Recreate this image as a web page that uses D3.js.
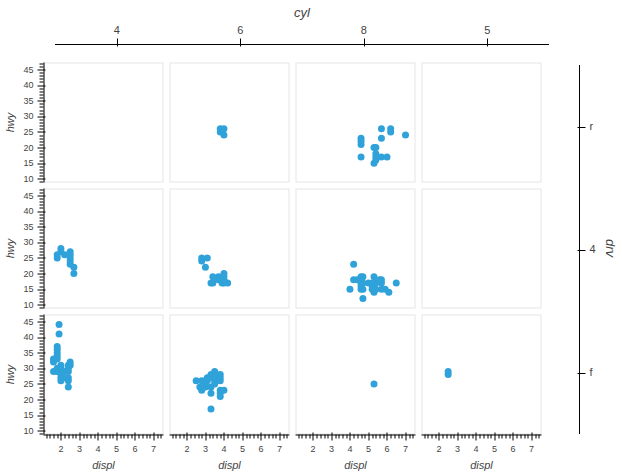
<!DOCTYPE html>
<html>
<head>
<meta charset="utf-8">
<script src="https://cdn.jsdelivr.net/npm/d3@7"></script>
<style>
  html, body { margin: 0; padding: 0; background: #fff; }
  svg { display: block; font-family: "Liberation Sans", Arial, Helvetica, sans-serif; }
</style>
</head>
<body>
<svg id="chart" width="622" height="473"></svg>
<script>
// ---------- data ----------
const drvLevels = ["r", "4", "f"];
const cylLevels = ["4", "6", "8", "5"];
const xTicks = [2, 3, 4, 5, 6, 7];
const yTicks = [10, 15, 20, 25, 30, 35, 40, 45];
const xDomain = [1.06, 7.54];
const yDomain = [8.8, 47.2];

// [displ, hwy] per facet
const r_4 = [];
const r_6 = [[3.8,26],[3.8,25],[4.0,26],[4.0,24]];
const r_8 = [[5.3,20],[5.3,15],[5.7,17],[6.0,17],[5.7,26],[5.7,23],[6.2,26],[6.2,25],[7.0,24],
             [4.6,17],[5.4,18],[4.6,21],[4.6,22],[4.6,23],[5.4,20],[5.4,17],[5.4,16]];
const r_5 = [];

const d4_4 = [[1.8,26],[1.8,25],[2.0,28],[2.0,27],[2.5,25],[2.5,24],[2.5,27],[2.5,26],[2.5,23],
              [2.2,26],[2.7,20],[2.7,22]];
const d4_6 = [[2.8,25],[3.1,25],[2.8,24],[3.7,19],[3.7,18],[3.9,17],[4.0,17],[4.0,19],[4.2,17],
              [3.0,22],[4.0,20],[3.3,17],[3.4,19],[3.4,17],[4.0,18]];
const d4_8 = [[4.2,23],[5.3,19],[5.3,14],[5.7,15],[6.5,17],[4.7,19],[4.7,12],[5.2,17],[5.2,15],
              [4.7,17],[5.2,16],[5.9,15],[5.7,17],[4.6,19],[5.0,17],[4.6,16],[4.6,17],[5.4,15],
              [5.4,17],[5.7,18],[6.1,14],[4.0,15],[4.2,18],[4.4,18],[4.6,15],[5.6,18],[4.7,15]];
const d4_5 = [];

const f_4 = [[1.8,29],[2.0,31],[2.0,30],[2.4,27],[2.4,30],[2.4,24],[1.6,33],[1.6,32],[1.6,29],
             [1.8,34],[1.8,36],[2.0,29],[2.4,26],[2.4,31],[2.0,26],[2.0,28],[2.0,27],[2.4,29],
             [2.5,31],[2.5,32],[2.2,29],[2.2,27],[1.8,30],[1.8,33],[1.8,35],[1.8,37],[1.9,44],
             [1.9,41]];
const f_6 = [[2.8,26],[3.1,27],[3.1,26],[3.5,29],[3.6,26],[3.0,24],[3.3,22],[3.3,24],[3.3,17],
             [3.8,22],[3.8,21],[3.8,23],[4.0,23],[2.5,26],[3.3,28],[2.7,24],[3.5,27],[3.5,26],
             [3.0,25],[3.0,26],[3.5,25],[3.8,26],[3.8,27],[3.8,28],[3.5,28],[3.3,27],[2.8,24],
             [2.8,23]];
const f_8 = [[5.3,25]];
const f_5 = [[2.5,29],[2.5,28]];

const facetData = {
  "r|4": r_4, "r|6": r_6, "r|8": r_8, "r|5": r_5,
  "4|4": d4_4, "4|6": d4_6, "4|8": d4_8, "4|5": d4_5,
  "f|4": f_4, "f|6": f_6, "f|8": f_8, "f|5": f_5
};

// ---------- layout ----------
const svg = d3.select("#chart");
const panelW = 120, panelH = 120;
const colX = d3.scaleBand().domain(cylLevels).range([43.5, 43.5 + 126 * 4]).paddingInner(0);
const rowY = d3.scaleBand().domain(drvLevels).range([62.5, 62.5 + 126 * 3]).paddingInner(0);
const x = d3.scaleLinear().domain(xDomain).range([0, panelW]);
const y = d3.scaleLinear().domain(yDomain).range([panelH, 0]);
const dotColor = "#30a2da";
const textColor = "#444";
const tickFont = 9;

const xMinor = d3.range(12, 75, 2).map(v => v / 10).filter(v => v >= xDomain[0] && v <= xDomain[1] && !xTicks.includes(v));
const yMinor = d3.range(9, 48, 1).filter(v => v >= yDomain[0] && v <= yDomain[1] && !yTicks.includes(v));

drvLevels.forEach((drv, ri) => {
  cylLevels.forEach((cyl, ci) => {
    const g = svg.append("g").attr("transform", `translate(${colX(cyl)},${rowY(drv)})`);
    g.append("rect").attr("x", 0.5).attr("y", 0.5).attr("width", panelW - 1).attr("height", panelH - 1)
      .attr("fill", "#fff").attr("stroke", "#e5e5e5").attr("stroke-width", 1);
    g.selectAll("circle").data(facetData[drv + "|" + cyl]).join("circle")
      .attr("cx", d => x(d[0])).attr("cy", d => y(d[1])).attr("r", 3.5)
      .attr("fill", dotColor);

    // bottom axis on last row
    if (ri === drvLevels.length - 1) {
      const ax = g.append("g").attr("transform", `translate(0,${panelH})`);
      ax.append("line").attr("x1", 0).attr("x2", panelW).attr("y1", 0.5).attr("y2", 0.5)
        .attr("stroke", "#000").attr("stroke-width", 1);
      ax.selectAll("line.major").data(xTicks).join("line").attr("class", "major")
        .attr("x1", d => Math.round(x(d)) + 0.5).attr("x2", d => Math.round(x(d)) + 0.5)
        .attr("y1", -2).attr("y2", 6).attr("stroke", "#000");
      ax.selectAll("line.minor").data(xMinor).join("line").attr("class", "minor")
        .attr("x1", d => Math.round(x(d)) + 0.5).attr("x2", d => Math.round(x(d)) + 0.5)
        .attr("y1", 0).attr("y2", 4).attr("stroke", "#000");
      ax.selectAll("text").data(xTicks).join("text")
        .attr("x", d => x(d)).attr("y", 17).attr("text-anchor", "middle")
        .attr("font-size", tickFont).attr("fill", textColor).text(d => d);
      ax.append("text").attr("x", panelW / 2).attr("y", 34).attr("text-anchor", "middle")
        .attr("font-size", 11).attr("font-style", "italic").attr("fill", textColor).text("displ");
    }
    // left axis on first column
    if (ci === 0) {
      const ay = g.append("g");
      ay.append("line").attr("x1", 0.5).attr("x2", 0.5).attr("y1", 0).attr("y2", panelH)
        .attr("stroke", "#000");
      ay.selectAll("line.major").data(yTicks).join("line").attr("class", "major")
        .attr("y1", d => Math.round(y(d)) + 0.5).attr("y2", d => Math.round(y(d)) + 0.5)
        .attr("x1", -6).attr("x2", 2).attr("stroke", "#000");
      ay.selectAll("line.minor").data(yMinor).join("line").attr("class", "minor")
        .attr("y1", d => Math.round(y(d)) + 0.5).attr("y2", d => Math.round(y(d)) + 0.5)
        .attr("x1", -4).attr("x2", 0).attr("stroke", "#000");
      ay.selectAll("text").data(yTicks).join("text")
        .attr("x", -10).attr("y", d => y(d)).attr("dy", "0.35em").attr("text-anchor", "end")
        .attr("font-size", tickFont).attr("fill", textColor).text(d => d);
      ay.append("text").attr("transform", `translate(${-33},${panelH / 2}) rotate(-90)`)
        .attr("text-anchor", "middle").attr("dy", "0.35em")
        .attr("font-size", 11).attr("font-style", "italic").attr("fill", textColor).text("hwy");
    }
  });
});

// ---------- top categorical axis (cyl) ----------
const topX = d3.scaleBand().domain(cylLevels).range([55, 549]);
const topAxisY = 44.5;
const topAxis = svg.append("g");
topAxis.append("line").attr("x1", 55).attr("x2", 549).attr("y1", topAxisY).attr("y2", topAxisY).attr("stroke", "#000");
topAxis.selectAll("line.t").data(cylLevels).join("line").attr("class", "t")
  .attr("x1", d => Math.round(topX(d) + topX.bandwidth() / 2) + 0.5)
  .attr("x2", d => Math.round(topX(d) + topX.bandwidth() / 2) + 0.5)
  .attr("y1", topAxisY - 6).attr("y2", topAxisY + 2).attr("stroke", "#000");
topAxis.selectAll("text.t").data(cylLevels).join("text").attr("class", "t")
  .attr("x", d => topX(d) + topX.bandwidth() / 2).attr("y", topAxisY - 14)
  .attr("dy", "0.35em").attr("text-anchor", "middle")
  .attr("font-size", 11).attr("fill", textColor).text(d => d);
topAxis.append("text").attr("x", 302).attr("y", 12).attr("dy", "0.35em").attr("text-anchor", "middle")
  .attr("font-size", 13).attr("font-style", "italic").attr("fill", textColor).text("cyl");

// ---------- right categorical axis (drv) ----------
const rightScale = d3.scaleBand().domain(drvLevels).range([65, 434]);
const rightAxisX = 579.5;
const rightAxis = svg.append("g");
rightAxis.append("line").attr("x1", rightAxisX).attr("x2", rightAxisX).attr("y1", 65).attr("y2", 434).attr("stroke", "#000");
rightAxis.selectAll("line.t").data(drvLevels).join("line").attr("class", "t")
  .attr("y1", d => Math.round(rightScale(d) + rightScale.bandwidth() / 2) + 0.5)
  .attr("y2", d => Math.round(rightScale(d) + rightScale.bandwidth() / 2) + 0.5)
  .attr("x1", rightAxisX - 2).attr("x2", rightAxisX + 6).attr("stroke", "#000");
rightAxis.selectAll("text.t").data(drvLevels).join("text").attr("class", "t")
  .attr("x", rightAxisX + 10).attr("y", d => rightScale(d) + rightScale.bandwidth() / 2)
  .attr("dy", "0.35em").attr("text-anchor", "start")
  .attr("font-size", 11).attr("fill", textColor).text(d => d);
rightAxis.append("text").attr("transform", `translate(611,248) rotate(90)`)
  .attr("text-anchor", "middle").attr("dy", "0.35em")
  .attr("font-size", 13).attr("font-style", "italic").attr("fill", textColor).text("drv");
</script>
</body>
</html>
